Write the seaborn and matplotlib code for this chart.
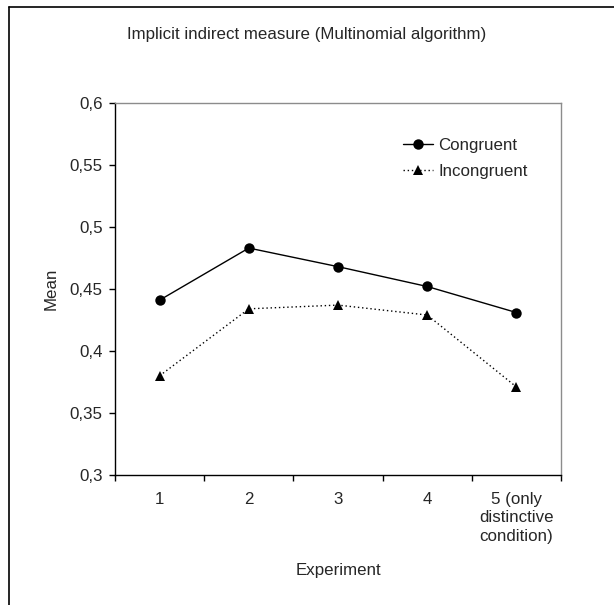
import numpy as np
import pandas as pd
import matplotlib
matplotlib.use("Agg")
import matplotlib.pyplot as plt
import seaborn as sns
from matplotlib.lines import Line2D

# dados
experimentos = [1, 2, 3, 4, 5]
rotulos_x = ["1", "2", "3", "4", "5 (only\ndistinctive\ncondition)"]
congruent = [0.441, 0.483, 0.468, 0.452, 0.431]
incongruent = [0.380, 0.434, 0.437, 0.429, 0.371]
ticks_y = [0.3, 0.35, 0.4, 0.45, 0.5, 0.55, 0.6]
rotulos_y = ["0,3", "0,35", "0,4", "0,45", "0,5", "0,55", "0,6"]

df = pd.DataFrame({
    "Experiment": experimentos * 2,
    "Mean": congruent + incongruent,
    "cond": ["Congruent"] * 5 + ["Incongruent"] * 5,
})

sns.set_style("white")
plt.rcParams["font.family"] = ["Liberation Sans", "DejaVu Sans"]
fs = 12.2
plt.rcParams["font.size"] = fs

fig = plt.figure(figsize=(6.14, 6.05), dpi=100)
ax = fig.add_axes([0.1873, 0.2149, 0.7264, 0.6149])

# Gráfico
sns.lineplot(data=df, x="Experiment", y="Mean", hue="cond", style="cond",
             markers={"Congruent": "o", "Incongruent": "^"},
             dashes={"Congruent": "", "Incongruent": (1, 2)},
             palette={"Congruent": "black", "Incongruent": "black"},
             linewidth=1, markersize=7.5, markeredgewidth=0, ax=ax, legend=False)

ax.set_xlim(0.5, 5.5)
ax.set_ylim(0.3, 0.6)
ax.set_yticks(ticks_y)
ax.set_yticklabels(rotulos_y, fontsize=fs)
ax.set_xticks(np.arange(0.5, 5.6, 1.0))
ax.set_xticklabels([])
ax.set_xticks(experimentos, minor=True)
ax.set_xticklabels(rotulos_x, minor=True, fontsize=fs, linespacing=1.3)
ax.tick_params(axis="x", which="minor", length=0, pad=12)
ax.tick_params(axis="both", which="major", direction="out", length=4,
               width=1, color="black", left=True, bottom=True)
ax.tick_params(axis="y", which="major", pad=5)
ax.tick_params(axis="x", which="minor", bottom=False)
for l in ax.get_xticklabels(minor=True):
    l.set_verticalalignment("top")

ax.set_xlabel("Experiment", fontsize=fs, labelpad=14)
ax.set_ylabel("Mean", fontsize=fs, labelpad=8)

for s in ["left", "bottom"]:
    ax.spines[s].set_color("black")
    ax.spines[s].set_linewidth(1)
for s in ["top", "right"]:
    ax.spines[s].set_color("#8c8c8c")
    ax.spines[s].set_linewidth(1)

handles = [
    Line2D([], [], color="black", lw=1, marker="o", markersize=7.5, markeredgewidth=0),
    Line2D([], [], color="black", lw=1, ls=(0, (1, 2)), marker="^", markersize=7.5, markeredgewidth=0),
]
fig.legend(handles, ["Congruent", "Incongruent"], loc="upper left",
           bbox_to_anchor=(0.643, 0.786), frameon=False, handlelength=1.75,
           handletextpad=0.3, labelspacing=0.65, fontsize=fs, borderpad=0)

fig.suptitle("Implicit indirect measure (Multinomial algorithm)", x=0.5, y=0.955,
             fontsize=fs)

# moldura externa (esquerda e topo)
fig.add_artist(Line2D([0.0147, 0.0147], [0.0, 0.9884], color="black", lw=1.2,
                      transform=fig.transFigure))
fig.add_artist(Line2D([0.0147, 1.0], [0.9884, 0.9884], color="black", lw=1.2,
                      transform=fig.transFigure))

fig.savefig("out.png", dpi=100, facecolor="white")
